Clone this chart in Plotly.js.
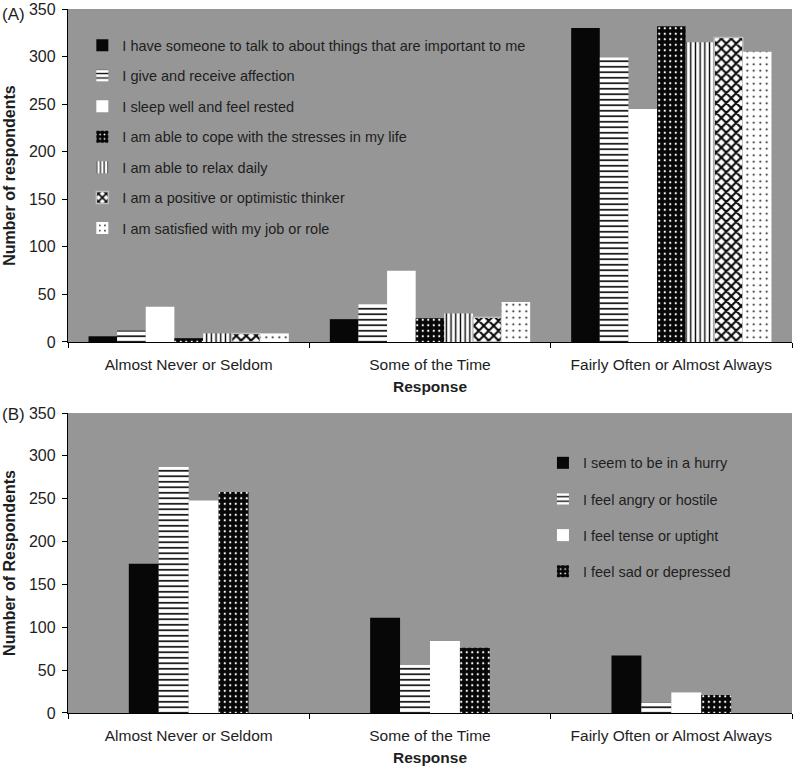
<!DOCTYPE html>
<html>
<head>
<meta charset="utf-8">
<script src="https://cdn.plot.ly/plotly-3.0.1.min.js"></script>
<style>html,body{margin:0;padding:0;background:#fff}</style>
</head>
<body>
<div id="chart" style="width:796px;height:768px"></div>
<script>
// ---- Data ----
const categories = ["Almost Never or Seldom", "Some of the Time", "Fairly Often or Almost Always"];

const seriesA = [
  "I have someone to talk to about things that are important to me",
  "I give and receive affection",
  "I sleep well and feel rested",
  "I am able to cope with the stresses in my life",
  "I am able to relax daily",
  "I am a positive or optimistic thinker",
  "I am satisfied with my job or role"
];
const valuesA1 = [6, 24, 330];
const valuesA2 = [12, 40, 299];
const valuesA3 = [37, 75, 245];
const valuesA4 = [4, 25, 332];
const valuesA5 = [9, 30, 315];
const valuesA6 = [9, 26, 320];
const valuesA7 = [9, 42, 305];
const valuesA = [valuesA1, valuesA2, valuesA3, valuesA4, valuesA5, valuesA6, valuesA7];

const seriesB = [
  "I seem to be in a hurry",
  "I feel angry or hostile",
  "I feel tense or uptight",
  "I feel sad or depressed"
];
const valuesB1 = [174, 111, 67];
const valuesB2 = [287, 56, 12];
const valuesB3 = [248, 84, 24];
const valuesB4 = [258, 76, 21];
const valuesB = [valuesB1, valuesB2, valuesB3, valuesB4];

const yTicks = [0, 50, 100, 150, 200, 250, 300, 350];

// ---- Styles ----
const BLACK = "#070707";
const styles = [
  {color: BLACK, pattern: {shape: ""}, line: {width: 0}},
  {color: "#ffffff", pattern: {shape: "-", fgcolor: BLACK, bgcolor: "#ffffff", size: 5.5, solidity: 0.3}, line: {width: 0}},
  {color: "#ffffff", pattern: {shape: ""}, line: {width: 0}},
  {color: BLACK, pattern: {shape: ".", fgcolor: "#ffffff", bgcolor: BLACK, size: 5.5, solidity: 0.12}, line: {width: 0}},
  {color: "#ffffff", pattern: {shape: "|", fgcolor: BLACK, bgcolor: "#ffffff", size: 4.7, solidity: 0.3}, line: {width: 0}},
  {color: "#ffffff", pattern: {shape: "x", fgcolor: BLACK, bgcolor: "#ffffff", size: 7, solidity: 0.5}, line: {width: 1.5, color: "#bdbdbd"}},
  {color: "#ffffff", pattern: {shape: ".", fgcolor: BLACK, bgcolor: "#ffffff", size: 6.5, solidity: 0.07}, line: {width: 0}}
];

const FONT = "Liberation Sans, Arial, sans-serif";
const TXT = "#1e1e1e";

const traces = [];
seriesA.forEach((name, i) => {
  traces.push({
    type: "bar", name: name, x: categories, y: valuesA[i],
    xaxis: "x", yaxis: "y", legend: "legend", legendgroup: "a" + i,
    marker: {color: styles[i].color, pattern: styles[i].pattern, line: styles[i].line},
    hoverinfo: "x+y+name"
  });
});
const bw = 0.124;
seriesB.forEach((name, i) => {
  traces.push({
    type: "bar", name: name, x: categories, y: valuesB[i],
    xaxis: "x2", yaxis: "y2", legend: "legend2", legendgroup: "b" + i,
    width: bw, offset: -2 * bw + i * bw,
    marker: {color: styles[i].color, pattern: styles[i].pattern, line: styles[i].line},
    hoverinfo: "x+y+name"
  });
});

function yaxisDef(domain, title, anchor) {
  return {
    domain: domain, anchor: anchor, range: [0, 350], tickvals: yTicks,
    ticks: "outside", ticklen: 5, tickcolor: "#000", tickwidth: 1,
    showline: true, linecolor: "#000", linewidth: 1.2,
    showgrid: false, zeroline: false, fixedrange: true,
    tickfont: {family: FONT, size: 16, color: TXT},
    ticklabelstandoff: 3,
    title: {text: title, font: {family: FONT, size: 16, color: TXT, weight: "bold"}, standoff: 9},
    automargin: false
  };
}
function xaxisDef(anchor) {
  return {
    anchor: anchor, domain: [0, 1], type: "category",
    tickson: "boundaries", ticks: "outside", ticklen: 5, tickcolor: "#000",
    showline: true, linecolor: "#000", linewidth: 1.2,
    showgrid: false, zeroline: false, fixedrange: true,
    tickfont: {family: FONT, size: 15.5, color: TXT},
    ticklabelstandoff: 8,
    title: {text: "Response", font: {family: FONT, size: 15.5, color: TXT, weight: "bold"}, standoff: 9},
    automargin: false
  };
}

const layout = {
  width: 796, height: 768,
  margin: {l: 68, r: 4, t: 9, b: 55},
  paper_bgcolor: "#ffffff",
  plot_bgcolor: "#969696",
  barmode: "group", bargap: 0.17, bargroupgap: 0,
  font: {family: FONT, color: TXT},
  showlegend: true,
  xaxis: xaxisDef("y"),
  yaxis: yaxisDef([0.527, 1], "Number of respondents", "x"),
  xaxis2: xaxisDef("y2"),
  yaxis2: yaxisDef([0, 0.4261], "Number of Respondents", "x2"),
  legend: {
    x: 0.0198, y: 0.971, xanchor: "left", yanchor: "top",
    bgcolor: "rgba(0,0,0,0)", borderwidth: 0,
    font: {family: FONT, size: 14.5, color: TXT},
    tracegroupgap: 8.6
  },
  legend2: {
    x: 0.656, y: 0.378, xanchor: "left", yanchor: "top",
    bgcolor: "rgba(0,0,0,0)", borderwidth: 0,
    font: {family: FONT, size: 14.5, color: TXT},
    tracegroupgap: 14.3
  },
  annotations: [
    {text: "(A)", xref: "paper", yref: "paper", x: -0.0939, y: 0.9915, xanchor: "left", yanchor: "middle",
     showarrow: false, font: {family: FONT, size: 17, color: TXT}},
    {text: "(B)", xref: "paper", yref: "paper", x: -0.0939, y: 0.4247, xanchor: "left", yanchor: "middle",
     showarrow: false, font: {family: FONT, size: 17, color: TXT}}
  ]
};

Plotly.newPlot("chart", traces, layout, {displayModeBar: false, staticPlot: true});
</script>
</body>
</html>
